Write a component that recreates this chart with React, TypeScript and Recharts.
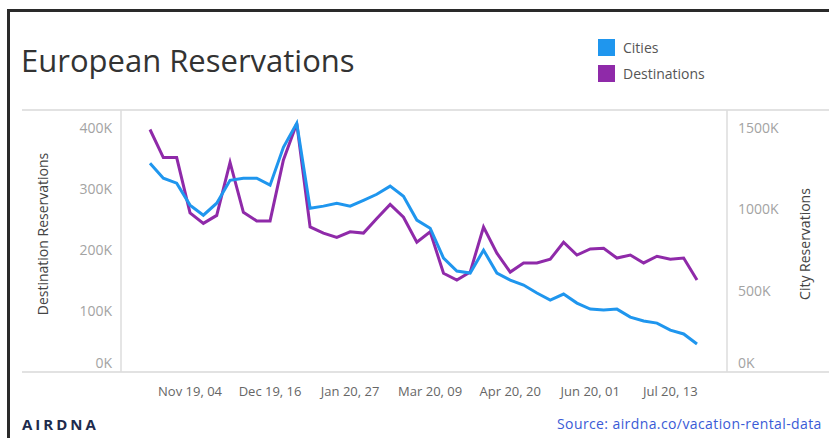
import React from 'react';
import { LineChart, Line, XAxis, YAxis } from 'recharts';

// weekly periods, Oct 2019 - Jul 2020
const WEEKS = [
  'Oct 19, 14', 'Oct 19, 21', 'Oct 19, 28', 'Nov 19, 04', 'Nov 19, 11', 'Nov 19, 18', 'Nov 19, 25',
  'Dec 19, 02', 'Dec 19, 09', 'Dec 19, 16', 'Dec 19, 23', 'Dec 19, 30', 'Jan 20, 06', 'Jan 20, 13',
  'Jan 20, 20', 'Jan 20, 27', 'Feb 20, 03', 'Feb 20, 10', 'Feb 20, 17', 'Feb 20, 24', 'Mar 20, 02',
  'Mar 20, 09', 'Mar 20, 16', 'Mar 20, 23', 'Mar 20, 30', 'Apr 20, 06', 'Apr 20, 13', 'Apr 20, 20',
  'Apr 20, 27', 'May 20, 04', 'May 20, 11', 'May 20, 18', 'May 20, 25', 'Jun 20, 01', 'Jun 20, 08',
  'Jun 20, 15', 'Jun 20, 22', 'Jun 20, 29', 'Jul 20, 06', 'Jul 20, 13', 'Jul 20, 20', 'Jul 20, 27',
];

const TICK_LABELS = ['Nov 19, 04', 'Dec 19, 16', 'Jan 20, 27', 'Mar 20, 09', 'Apr 20, 20', 'Jun 20, 01', 'Jul 20, 13'];

const CITIES = [
  1285000, 1193000, 1162000, 1027000, 965000, 1039000, 1180000, 1193000, 1193000, 1150000, 1383000,
  1531000, 1008000, 1021000, 1039000, 1021000, 1057000, 1094000, 1144000, 1082000, 935000, 885000,
  701000, 621000, 609000, 750000, 609000, 566000, 535000, 486000, 443000, 480000, 424000, 387000,
  381000, 387000, 338000, 314000, 301000, 258000, 234000, 172000,
];

const DESTINATIONS = [
  398000, 352000, 352000, 261000, 244000, 257000, 344000, 262000, 248000, 248000, 348000,
  408000, 238000, 228000, 221000, 230000, 228000, 252000, 275000, 254000, 213000, 230000,
  162000, 151000, 164000, 238000, 195000, 164000, 179000, 179000, 185000, 213000, 192000, 202000,
  203000, 187000, 192000, 179000, 190000, 185000, 187000, 151000,
];

const LEFT_TICKS = [0, 100000, 200000, 300000, 400000];
const RIGHT_TICKS = [0, 500000, 1000000, 1500000];

const BLUE = '#1f96ee';
const PURPLE = '#8f2aa9';
const FONT = '"Open Sans", sans-serif';

const data = WEEKS.map((week, i) => ({ week, cities: CITIES[i], destinations: DESTINATIONS[i] }));

const fmtK = (v: number) => `${Math.round(v / 1000)}K`;

// tableau nudges the 0K label up inside the pane
const YTick = (props: any) => {
  const { x, y, payload, textAnchor } = props;
  return (
    <text
      x={x}
      y={payload.value === 0 ? y - 9 : y}
      dy="0.355em"
      textAnchor={textAnchor}
      fill="#a3a3a3"
      fontSize={14}
      fontFamily={FONT}
    >
      {fmtK(payload.value)}
    </text>
  );
};

const rule: React.CSSProperties = { position: 'absolute', background: '#e2e2e2' };

export default function App() {
  return (
    <div style={{ position: 'absolute', left: 0, top: 0, width: 829, height: 438, background: '#fff', overflow: 'hidden', fontFamily: FONT }}>
      <div style={{ position: 'absolute', left: 7, top: 9, right: 0, bottom: 0, borderTop: '3px solid #2a2a2a', borderLeft: '3px solid #2a2a2a' }} />

      <div style={{ position: 'absolute', left: 21, top: 39, fontSize: 31, fontWeight: 500, color: '#333', whiteSpace: 'nowrap' }}>
        European Reservations
      </div>

      <div style={{ position: 'absolute', left: 598, top: 34, fontSize: 14, color: '#555' }}>
        {[{ name: 'Cities', color: BLUE }, { name: 'Destinations', color: PURPLE }].map((item) => (
          <div key={item.name} style={{ display: 'flex', alignItems: 'center', height: 26 }}>
            <span style={{ width: 17, height: 17, background: item.color, marginRight: 8 }} />
            <span>{item.name}</span>
          </div>
        ))}
      </div>

      <div style={{ ...rule, left: 22, right: 0, top: 109, height: 2 }} />
      <div style={{ ...rule, left: 22, right: 0, top: 371, height: 2 }} />

      <div style={{ position: 'absolute', left: 0, top: 0 }}>
        <LineChart width={829} height={438} data={data} margin={{ top: 110, right: 2, bottom: 36, left: 21 }}>
          <XAxis
            dataKey="week"
            interval={0}
            height={30}
            tickLine={false}
            axisLine={false}
            tickMargin={9}
            padding={{ left: 29, right: 30 }}
            tick={{ fill: '#666', fontSize: 13, fontFamily: FONT }}
            tickFormatter={(v: string) => (TICK_LABELS.includes(v) ? v : '')}
          />
          <YAxis
            yAxisId="left"
            orientation="left"
            width={100}
            domain={[0, 430000]}
            ticks={LEFT_TICKS}
            tickLine={false}
            axisLine={{ stroke: '#dcdcdc', strokeWidth: 1.5 }}
            tickMargin={3}
            tick={<YTick />}
            label={{ value: 'Destination Reservations', angle: -90, position: 'insideLeft', offset: 22, dy: -7, style: { textAnchor: 'middle', fill: '#444', fontSize: 14, fontFamily: FONT } }}
          />
          <YAxis
            yAxisId="right"
            orientation="right"
            width={100}
            domain={[0, 1612500]}
            ticks={RIGHT_TICKS}
            tickLine={false}
            axisLine={{ stroke: '#dcdcdc', strokeWidth: 1.5 }}
            tickMargin={5}
            tick={<YTick />}
            label={{ value: 'City Reservations', angle: -90, position: 'insideRight', offset: 22, dy: 3, style: { textAnchor: 'middle', fill: '#444', fontSize: 14, fontFamily: FONT } }}
          />
          <Line yAxisId="left" dataKey="destinations" type="linear" stroke={PURPLE} strokeWidth={3} dot={false} isAnimationActive={false} />
          <Line yAxisId="right" dataKey="cities" type="linear" stroke={BLUE} strokeWidth={3} dot={false} isAnimationActive={false} />
        </LineChart>
      </div>

      <div style={{ position: 'absolute', left: 22, top: 414, fontSize: 15, fontWeight: 700, letterSpacing: 3, color: '#1d2b4c' }}>
        AIRDNA
      </div>
      <div style={{ position: 'absolute', left: 557, top: 414, fontSize: 14, fontWeight: 500, letterSpacing: 0.4, color: '#3a5bd6', whiteSpace: 'nowrap' }}>
        Source: airdna.co/vacation-rental-data
      </div>
    </div>
  );
}
